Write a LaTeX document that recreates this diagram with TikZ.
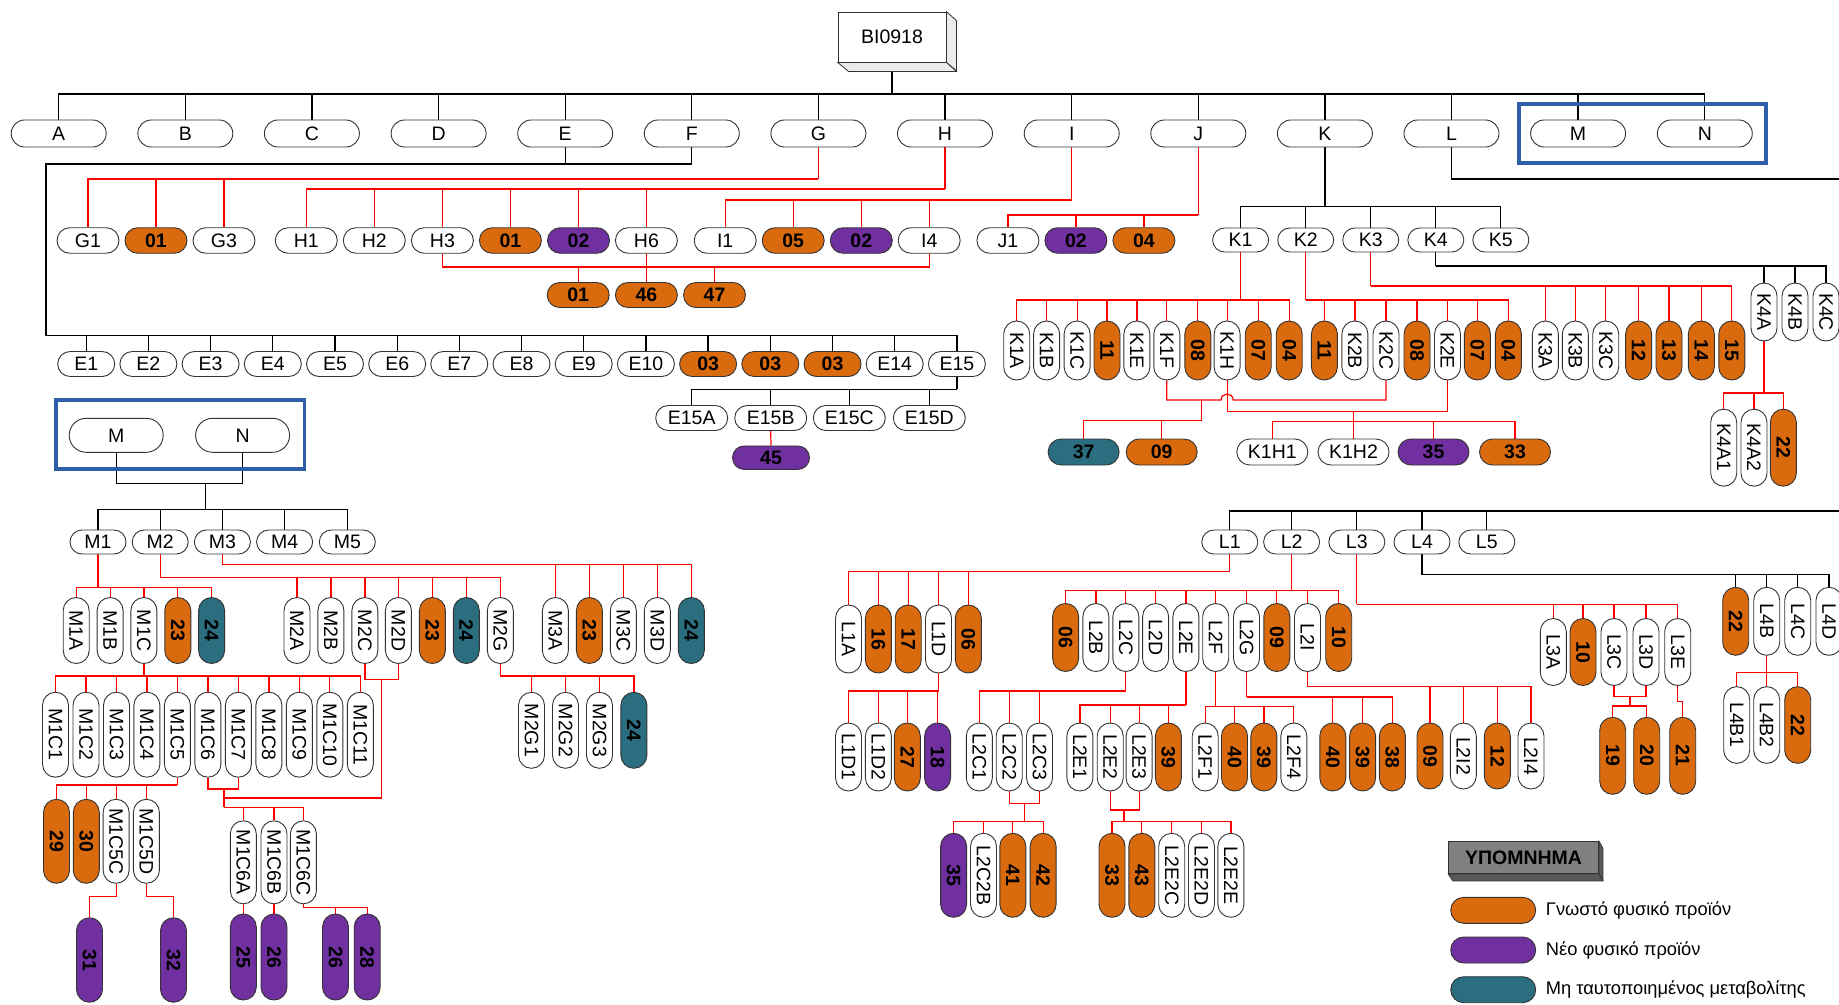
\documentclass[tikz,border=0pt]{standalone}
\usepackage{fontspec}
\setmainfont{Liberation Sans}
\usetikzlibrary{shapes.misc,calc}
\definecolor{orgc}{RGB}{217,106,14}
\definecolor{purc}{RGB}{112,48,160}
\definecolor{tealc}{RGB}{42,110,128}
\definecolor{framec}{RGB}{46,95,168}
\newcommand\lbl{\fontsize{19.5}{21}\selectfont}
\newcommand\lblb{\fontsize{19.5}{21}\selectfont\bfseries}
\newcommand\lgd{\fontsize{18.3}{20}\selectfont}
\pgfdeclarelayer{bg}
\pgfsetlayers{bg,main}
\tikzset{
  pill/.style={rounded rectangle,draw=black!80,line width=0.9pt,inner sep=0pt,font=\lbl},
  wt/.style={fill=white},
  og/.style={fill=orgc,font=\lblb},
  pu/.style={fill=purc,font=\lblb},
  tl/.style={fill=tealc,font=\lblb},
  rl/.style={draw=red,line width=1.2pt},
  bl/.style={draw=black,line width=1.3pt},
  frame/.style={draw=framec,line width=3.8pt},
  face/.style={draw=black!80,line width=0.8pt},
}
% vertical pill: name, x, y, length, colour style, text
\newcommand\vpill[6]{\node[pill,rotate=-90,minimum width=#4,minimum height=26,#5] (#1) at (#2,#3) {#6};}
% horizontal pill: name, x, y, width, height, colour style, text
\newcommand\hpill[7]{\node[pill,minimum width=#4,minimum height=#5,#6] (#1) at (#2,#3) {#7};}
% parent stem down to a bus at height #3, then one drop per child anchor
\newcommand\tbranch[4]{%
  \draw[#1] (#2) -- (#2 |- 0,#3);
  \foreach \c in {#4}{\draw[#1] (#2 |- 0,#3) -| (\c);}%
}
\begin{document}
\begin{tikzpicture}[x=1pt,y=-1pt]
\useasboundingbox (0,0) rectangle (1839,1004);
\begin{pgfonlayer}{bg}
  \fill[white] (0,0) rectangle (1839,1004);
\end{pgfonlayer}

% ---------- root ----------
\node[face,fill=white,minimum width=108,minimum height=50,inner sep=0pt,font=\lbl] (root) at (892,37) {BI0918};
\draw[face,fill=black!8] (root.north east) -- ++(10,9) -- ++(0,50) -- (root.south east) -- cycle;
\draw[face,fill=black!8] (root.south west) -- (root.south east) -- ++(10,9) -- ++(-108,0) -- cycle;

% ---------- first level ----------
\hpill{tA}{58.7}{133.5}{95}{27}{wt}{A}
\hpill{tB}{185.3}{133.5}{95}{27}{wt}{B}
\hpill{tC}{311.9}{133.5}{95}{27}{wt}{C}
\hpill{tD}{438.6}{133.5}{95}{27}{wt}{D}
\hpill{tE}{565.2}{133.5}{95}{27}{wt}{E}
\hpill{tF}{691.8}{133.5}{95}{27}{wt}{F}
\hpill{tG}{818.4}{133.5}{95}{27}{wt}{G}
\hpill{tH}{945.0}{133.5}{95}{27}{wt}{H}
\hpill{tI}{1071.7}{133.5}{95}{27}{wt}{I}
\hpill{tJ}{1198.3}{133.5}{95}{27}{wt}{J}
\hpill{tK}{1324.9}{133.5}{95}{27}{wt}{K}
\hpill{tL}{1451.5}{133.5}{95}{27}{wt}{L}
\hpill{tM}{1578.1}{133.5}{95}{27}{wt}{M}
\hpill{tN}{1704.8}{133.5}{95}{27}{wt}{N}
\draw[frame] (1519,104) rectangle (1766,163);

% ---------- G, H, I, J, K rows ----------
\hpill{G1}{88}{240.5}{62}{25.5}{wt}{G1}
\hpill{g01}{156}{240.5}{62}{25.5}{og}{01}
\hpill{G3}{224}{240.5}{62}{25.5}{wt}{G3}
\hpill{H1}{306.3}{240.5}{62}{25.5}{wt}{H1}
\hpill{H2}{374.3}{240.5}{62}{25.5}{wt}{H2}
\hpill{H3}{442.4}{240.5}{62}{25.5}{wt}{H3}
\hpill{h01}{510.4}{240.5}{62}{25.5}{og}{01}
\hpill{h02}{578.5}{240.5}{62}{25.5}{pu}{02}
\hpill{H6}{646.4}{240.5}{62}{25.5}{wt}{H6}
\hpill{I1}{725.2}{240.5}{62}{25.5}{wt}{I1}
\hpill{i05}{793.2}{240.5}{62}{25.5}{og}{05}
\hpill{i02}{861.3}{240.5}{62}{25.5}{pu}{02}
\hpill{I4}{929.2}{240.5}{62}{25.5}{wt}{I4}
\hpill{J1}{1007.9}{240.5}{62}{25.5}{wt}{J1}
\hpill{j02}{1075.9}{240.5}{62}{25.5}{pu}{02}
\hpill{j04}{1143.9}{240.5}{62}{25.5}{og}{04}
\hpill{K1}{1240.6}{240}{56}{24}{wt}{K1}
\hpill{K2}{1305.7}{240}{56}{24}{wt}{K2}
\hpill{K3}{1370.7}{240}{56}{24}{wt}{K3}
\hpill{K4}{1435.8}{240}{56}{24}{wt}{K4}
\hpill{K5}{1500.8}{240}{56}{24}{wt}{K5}
\hpill{hs01}{578.2}{295}{62}{25}{og}{01}
\hpill{hs46}{646.4}{295}{62}{25}{og}{46}
\hpill{hs47}{714.5}{295}{62}{25}{og}{47}

% ---------- E row ----------
\hpill{E1}{86.2}{364}{57}{25}{wt}{E1}
\hpill{E2}{148.4}{364}{57}{25}{wt}{E2}
\hpill{E3}{210.6}{364}{57}{25}{wt}{E3}
\hpill{E4}{272.8}{364}{57}{25}{wt}{E4}
\hpill{E5}{335.0}{364}{57}{25}{wt}{E5}
\hpill{E6}{397.2}{364}{57}{25}{wt}{E6}
\hpill{E7}{459.3}{364}{57}{25}{wt}{E7}
\hpill{E8}{521.5}{364}{57}{25}{wt}{E8}
\hpill{E9}{583.7}{364}{57}{25}{wt}{E9}
\hpill{E10}{645.9}{364}{57}{25}{wt}{E10}
\hpill{e03a}{708.1}{364}{57}{25}{og}{03}
\hpill{e03b}{770.3}{364}{57}{25}{og}{03}
\hpill{e03c}{832.5}{364}{57}{25}{og}{03}
\hpill{E14}{894.7}{364}{57}{25}{wt}{E14}
\hpill{E15}{956.9}{364}{57}{25}{wt}{E15}
\hpill{E15A}{691.7}{418}{72}{25}{wt}{E15A}
\hpill{E15B}{770.7}{418}{72}{25}{wt}{E15B}
\hpill{E15C}{849.3}{418}{72}{25}{wt}{E15C}
\hpill{E15D}{929.3}{418}{72}{25}{wt}{E15D}
\hpill{e45}{771}{457.7}{77}{23.5}{pu}{45}

% ---------- K children ----------
\vpill{K1A}{1016.7}{350.5}{59}{wt}{K1A}
\vpill{K1B}{1046.6}{350.5}{59}{wt}{K1B}
\vpill{K1C}{1077.1}{350.5}{59}{wt}{K1C}
\vpill{k11a}{1107}{350.5}{59}{og}{11}
\vpill{K1E}{1136.9}{350.5}{59}{wt}{K1E}
\vpill{K1F}{1166.8}{350.5}{59}{wt}{K1F}
\vpill{k08a}{1197.8}{350.5}{59}{og}{08}
\vpill{K1H}{1227.1}{350.5}{59}{wt}{K1H}
\vpill{k07a}{1258.2}{350.5}{59}{og}{07}
\vpill{k04a}{1289.2}{350.5}{59}{og}{04}
\vpill{k11b}{1324.4}{350.5}{59}{og}{11}
\vpill{K2B}{1354.9}{350.5}{59}{wt}{K2B}
\vpill{K2C}{1386}{350.5}{59}{wt}{K2C}
\vpill{k08b}{1417}{350.5}{59}{og}{08}
\vpill{K2E}{1447.5}{350.5}{59}{wt}{K2E}
\vpill{k07b}{1477.4}{350.5}{59}{og}{07}
\vpill{k04b}{1508.4}{350.5}{59}{og}{04}
\vpill{K3A}{1545.4}{350.5}{59}{wt}{K3A}
\vpill{K3B}{1575.3}{350.5}{59}{wt}{K3B}
\vpill{K3C}{1605.7}{350.5}{59}{wt}{K3C}
\vpill{k12}{1638.6}{350.5}{59}{og}{12}
\vpill{k13}{1669}{350.5}{59}{og}{13}
\vpill{k14}{1701.3}{350.5}{59}{og}{14}
\vpill{k15}{1731.8}{350.5}{59}{og}{15}
\vpill{K4A}{1764}{312}{58}{wt}{K4A}
\vpill{K4B}{1795}{312}{58}{wt}{K4B}
\vpill{K4C}{1826}{312}{58}{wt}{K4C}
\vpill{K4A1}{1723.7}{447.7}{77}{wt}{K4A1}
\vpill{K4A2}{1754}{447.7}{77}{wt}{K4A2}
\vpill{k22}{1783.3}{447.7}{77}{og}{22}
\hpill{k37}{1083.6}{452}{71}{26}{tl}{37}
\hpill{k09}{1161.7}{452}{71}{26}{og}{09}
\hpill{K1H1}{1272.3}{452}{71}{26}{wt}{K1H1}
\hpill{K1H2}{1353.5}{452}{71}{26}{wt}{K1H2}
\hpill{k35}{1433.5}{452}{71}{26}{pu}{35}
\hpill{k33}{1515}{452}{71}{26}{og}{33}

% ---------- M / N branch ----------
\hpill{bM}{116.2}{435.3}{94}{34}{wt}{M}
\hpill{bN}{242.6}{435.3}{94}{34}{wt}{N}
\draw[frame] (56.3,400) rectangle (304.5,468.7);
\hpill{M1}{98}{542}{56}{24}{wt}{M1}
\hpill{M2}{160.2}{542}{56}{24}{wt}{M2}
\hpill{M3}{222.4}{542}{56}{24}{wt}{M3}
\hpill{M4}{284.6}{542}{56}{24}{wt}{M4}
\hpill{M5}{347.3}{542}{56}{24}{wt}{M5}
\vpill{M1A}{76.2}{630.5}{66}{wt}{M1A}
\vpill{M1B}{110.1}{630.5}{66}{wt}{M1B}
\vpill{M1C}{143.9}{630.5}{66}{wt}{M1C}
\vpill{m23a}{177.8}{630.5}{66}{og}{23}
\vpill{m24a}{211.6}{630.5}{66}{tl}{24}
\vpill{M2A}{297}{630.5}{66}{wt}{M2A}
\vpill{M2B}{330.9}{630.5}{66}{wt}{M2B}
\vpill{M2C}{364.9}{630.5}{66}{wt}{M2C}
\vpill{M2D}{398.4}{630.5}{66}{wt}{M2D}
\vpill{m23b}{432.4}{630.5}{66}{og}{23}
\vpill{m24b}{466.3}{630.5}{66}{tl}{24}
\vpill{M2G}{500.3}{630.5}{66}{wt}{M2G}
\vpill{M3A}{555.4}{630.5}{66}{wt}{M3A}
\vpill{m23c}{589.4}{630.5}{66}{og}{23}
\vpill{M3C}{623.3}{630.5}{66}{wt}{M3C}
\vpill{M3D}{657.3}{630.5}{66}{wt}{M3D}
\vpill{m24c}{691.3}{630.5}{66}{tl}{24}
\vpill{M1C1}{55.5}{734.7}{85}{wt}{M1C1}
\vpill{M1C2}{86}{734.7}{85}{wt}{M1C2}
\vpill{M1C3}{116.5}{734.7}{85}{wt}{M1C3}
\vpill{M1C4}{146.9}{734.7}{85}{wt}{M1C4}
\vpill{M1C5}{177.4}{734.7}{85}{wt}{M1C5}
\vpill{M1C6}{207.9}{734.7}{85}{wt}{M1C6}
\vpill{M1C7}{238.4}{734.7}{85}{wt}{M1C7}
\vpill{M1C8}{268.9}{734.7}{85}{wt}{M1C8}
\vpill{M1C9}{299.3}{734.7}{85}{wt}{M1C9}
\vpill{M1C10}{329.8}{734.7}{85}{wt}{M1C10}
\vpill{M1C11}{360.3}{734.7}{85}{wt}{M1C11}
\vpill{M2G1}{531.5}{730.3}{76}{wt}{M2G1}
\vpill{M2G2}{565.5}{730.3}{76}{wt}{M2G2}
\vpill{M2G3}{599.5}{730.3}{76}{wt}{M2G3}
\vpill{m24d}{633.9}{730.3}{76}{tl}{24}
\vpill{m29}{56.5}{841.3}{84}{og}{29}
\vpill{m30}{86.3}{841.3}{84}{og}{30}
\vpill{M1C5C}{116.1}{841.3}{84}{wt}{M1C5C}
\vpill{M1C5D}{146.4}{841.3}{84}{wt}{M1C5D}
\vpill{M1C6A}{243.3}{862.3}{83}{wt}{M1C6A}
\vpill{M1C6B}{274}{862.3}{83}{wt}{M1C6B}
\vpill{M1C6C}{303.4}{862.3}{83}{wt}{M1C6C}
\vpill{p31}{89.5}{960}{84.5}{pu}{31}
\vpill{p32}{173.5}{960}{84.5}{pu}{32}
\vpill{p25}{243.3}{957}{86}{pu}{25}
\vpill{p26a}{274}{957}{86}{pu}{26}
\vpill{p26b}{335.5}{957}{86}{pu}{26}
\vpill{p28}{367.2}{957}{86}{pu}{28}

% ---------- L branch ----------
\hpill{L1}{1229.8}{542}{56}{24}{wt}{L1}
\hpill{L2}{1291.6}{542}{56}{24}{wt}{L2}
\hpill{L3}{1356.8}{542}{56}{24}{wt}{L3}
\hpill{L4}{1422}{542}{56}{24}{wt}{L4}
\hpill{L5}{1486.8}{542}{56}{24}{wt}{L5}
\vpill{L1A}{848.5}{639}{68}{wt}{L1A}
\vpill{l16}{878.4}{639}{68}{og}{16}
\vpill{l17}{908.2}{639}{68}{og}{17}
\vpill{L1D}{938.5}{639}{68}{wt}{L1D}
\vpill{l06a}{968.3}{639}{68}{og}{06}
\vpill{l06b}{1065.6}{637.5}{68}{og}{06}
\vpill{L2B}{1095.9}{637.5}{68}{wt}{L2B}
\vpill{L2C}{1125.8}{637.5}{68}{wt}{L2C}
\vpill{L2D}{1155.6}{637.5}{68}{wt}{L2D}
\vpill{L2E}{1185.9}{637.5}{68}{wt}{L2E}
\vpill{L2F}{1215.7}{637.5}{68}{wt}{L2F}
\vpill{L2G}{1246.5}{637.5}{68}{wt}{L2G}
\vpill{l09a}{1276.8}{637.5}{68}{og}{09}
\vpill{L2I}{1307.5}{637.5}{68}{wt}{L2I}
\vpill{l10a}{1338.7}{637.5}{68}{og}{10}
\vpill{L1D1}{848.5}{757}{68}{wt}{L1D1}
\vpill{L1D2}{878.4}{757}{68}{wt}{L1D2}
\vpill{l27}{907.3}{757}{68}{og}{27}
\vpill{l18}{937.6}{757}{68}{pu}{18}
\vpill{L2C1}{979.3}{757}{68}{wt}{L2C1}
\vpill{L2C2}{1009.2}{757}{68}{wt}{L2C2}
\vpill{L2C3}{1039.5}{757}{68}{wt}{L2C3}
\vpill{L2E1}{1079.9}{757}{68}{wt}{L2E1}
\vpill{L2E2}{1110.2}{757}{68}{wt}{L2E2}
\vpill{L2E3}{1139.1}{757}{68}{wt}{L2E3}
\vpill{l39a}{1168.4}{757}{68}{og}{39}
\vpill{L2F1}{1205.2}{757}{68}{wt}{L2F1}
\vpill{l40a}{1234.5}{757}{68}{og}{40}
\vpill{l39b}{1263.9}{757}{68}{og}{39}
\vpill{L2F4}{1293.8}{757}{68}{wt}{L2F4}
\vpill{l40b}{1332.8}{757}{68}{og}{40}
\vpill{l39c}{1362.6}{757}{68}{og}{39}
\vpill{l38}{1392.4}{757}{68}{og}{38}
\vpill{l09b}{1430}{756}{66}{og}{09}
\vpill{L2I2}{1463.3}{756}{66}{wt}{L2I2}
\vpill{l12}{1497.3}{756}{66}{og}{12}
\vpill{L2I4}{1531}{756}{66}{wt}{L2I4}
\vpill{l35}{953.6}{875.3}{84}{pu}{35}
\vpill{L2C2B}{983.5}{875.3}{84}{wt}{L2C2B}
\vpill{l41}{1012.8}{875.3}{84}{og}{41}
\vpill{l42}{1043.1}{875.3}{84}{og}{42}
\vpill{l33}{1112}{875.3}{84}{og}{33}
\vpill{l43}{1141.8}{875.3}{84}{og}{43}
\vpill{L2E2C}{1171.7}{875.3}{84}{wt}{L2E2C}
\vpill{L2E2D}{1201.5}{875.3}{84}{wt}{L2E2D}
\vpill{L2E2E}{1230.9}{875.3}{84}{wt}{L2E2E}
\vpill{L3A}{1553.3}{652}{67}{wt}{L3A}
\vpill{l10b}{1583}{652}{67}{og}{10}
\vpill{L3C}{1614}{652}{67}{wt}{L3C}
\vpill{L3D}{1646}{652}{67}{wt}{L3D}
\vpill{L3E}{1677.7}{652}{67}{wt}{L3E}
\vpill{l19}{1612.7}{755.8}{77}{og}{19}
\vpill{l20}{1646.7}{755.8}{77}{og}{20}
\vpill{l21}{1682.7}{755.8}{77}{og}{21}
\vpill{l22a}{1735.7}{621.3}{68}{og}{22}
\vpill{L4B}{1766.7}{621.3}{68}{wt}{L4B}
\vpill{L4C}{1797.7}{621.3}{68}{wt}{L4C}
\vpill{L4D}{1829}{621.3}{68}{wt}{L4D}
\vpill{L4B1}{1736.7}{725}{76.7}{wt}{L4B1}
\vpill{L4B2}{1766.7}{725}{76.7}{wt}{L4B2}
\vpill{l22b}{1797.7}{725}{76.7}{og}{22}

% ---------- legend ----------
\node[face,fill=black!50,minimum width=150,minimum height=32,inner sep=0pt,font=\lblb] (lgt) at (1523.5,857.5) {ΥΠΟΜΝΗΜΑ};
\draw[face,fill=black!65] (lgt.north east) -- ++(4,7) -- ++(0,32) -- (lgt.south east) -- cycle;
\draw[face,fill=black!65] (lgt.south west) -- (lgt.south east) -- ++(4,7) -- ++(-150,0) -- cycle;
\hpill{lgo}{1493.2}{910.3}{85}{26}{og}{}
\hpill{lgp}{1493.2}{950}{85}{26}{pu}{}
\hpill{lgt2}{1493.2}{989.7}{85}{26}{tl}{}
\node[anchor=west,inner sep=0pt,font=\lgd] (lgot) at (1545.7,910.3) {Γνωστό φυσικό προϊόν};
\node[anchor=west,inner sep=0pt,font=\lgd] (lgpt) at (1545.7,950) {Νέο φυσικό προϊόν};
\node[anchor=west,inner sep=0pt,font=\lgd] (lgtt) at (1545.7,989.7) {Μη ταυτοποιημένος μεταβολίτης};

% ---------- connectors ----------
\begin{pgfonlayer}{bg}
  \tbranch{bl}{root.south}{94}{tA.north,tB.north,tC.north,tD.north,tE.north,tF.north,tG.north,tH.north,tI.north,tJ.north,tK.north,tL.north,tM.north,tN.north}
  % E and F share one bus
  \coordinate (efj) at (46,164);
  \coordinate (efb) at (46,335.7);
  \draw[bl] (tF.south) |- (efj) -- (efb);
  \draw[bl] (tE.south) -- (tE.south |- efj);
  \foreach \c in {E1.north,E2.north,E3.north,E4.north,E5.north,E6.north,E7.north,E8.north,E9.north,E10.north,e03a.north,e03b.north,e03c.north,E14.north,E15.north}{\draw[bl] (efb) -| (\c);}
  \tbranch{bl}{E15.south}{389.3}{E15A.north,E15B.north,E15C.north,E15D.north}
  \draw[rl] (E15B.south) -- (e45.north);
  % G H I J
  \tbranch{rl}{tG.south}{179}{G1.north,g01.north,G3.north}
  \tbranch{rl}{tH.south}{189}{H1.north,H2.north,H3.north,h01.north,h02.north,H6.north}
  \tbranch{rl}{tI.south}{200}{I1.north,i05.north,i02.north,I4.north}
  \tbranch{rl}{tJ.south}{215}{J1.north,j02.north,j04.north}
  \draw[rl] (H3.south) |- (I4.south |- 0,267) -- (I4.south);
  \draw[rl] (H6.south) -- (hs46.north);
  \foreach \c in {hs01.north,hs47.north}{\draw[rl] (\c |- 0,267) -- (\c);}
  % K
  \tbranch{bl}{tK.south}{206.7}{K1.north,K2.north,K3.north,K4.north,K5.north}
  \tbranch{rl}{K1.south}{300}{K1A.west,K1B.west,K1C.west,k11a.west,K1E.west,K1F.west,k08a.west,K1H.west,k07a.west,k04a.west}
  \tbranch{rl}{K2.south}{300}{k11b.west,K2B.west,K2C.west,k08b.west,K2E.west,k07b.west,k04b.west}
  \tbranch{rl}{K3.south}{286}{K3A.west,K3B.west,K3C.west,k12.west,k13.west,k14.west,k15.west}
  \tbranch{bl}{K4.south}{266}{K4A.west,K4B.west,K4C.west}
  \tbranch{rl}{K4A.east}{393}{K4A1.west,K4A2.west,k22.west}
  \draw[rl] (K1F.east) |- ($(K1H.east |- 0,400)+(-6,0)$) .. controls +(0,-8) and +(0,-8) .. ++(12,0) -| (K2C.east);
  \draw[rl] (K1H.east) |- (K2E.east |- 0,411.7) -- (K2E.east);
  \coordinate (kjA) at (1201.3,400);
  \coordinate (kjB) at (1353.7,411.7);
  \tbranch{rl}{kjA}{420.7}{k37.north,k09.north}
  \tbranch{rl}{kjB}{421.7}{K1H1.north,K1H2.north,k35.north,k33.north}
  % M / N
  \draw[bl] (bM.south) |- (bN.south |- 0,483.3) -- (bN.south);
  \coordinate (mnj) at (205.3,483.3);
  \tbranch{bl}{mnj}{509.7}{M1.north,M2.north,M3.north,M4.north,M5.north}
  \tbranch{rl}{M1.south}{587.3}{M1A.west,M1B.west,M1C.west,m23a.west,m24a.west}
  \tbranch{rl}{M2.south}{577.3}{M2A.west,M2B.west,M2C.west,M2D.west,m23b.west,m24b.west,M2G.west}
  \tbranch{rl}{M3.south}{564.3}{M3A.west,m23c.west,M3C.west,M3D.west,m24c.west}
  \tbranch{rl}{M1C.east}{676}{M1C1.west,M1C2.west,M1C3.west,M1C4.west,M1C5.west,M1C6.west,M1C7.west,M1C8.west,M1C9.west,M1C10.west,M1C11.west}
  \tbranch{rl}{M2G.east}{676}{M2G1.west,M2G2.west,M2G3.west,m24d.west}
  \draw[rl] (M2C.east) |- (M2D.east |- 0,679.3) -- (M2D.east);
  \coordinate (m2cd) at (381.4,679.3);
  \coordinate (m6j) at (224,789);
  \coordinate (m6b) at (224,807.3);
  \draw[rl] (m2cd) |- (m6j |- 0,798);
  \draw[rl] (M1C6.east) |- (M1C7.east |- 0,789) -- (M1C7.east);
  \draw[rl] (m6j) -- (m6b);
  \foreach \c in {M1C6A.west,M1C6B.west,M1C6C.west}{\draw[rl] (m6b) -| (\c);}
  \tbranch{rl}{M1C5.east}{785}{m29.west,m30.west,M1C5C.west,M1C5D.west}
  \draw[rl] (M1C5C.east) |- (p31.west |- 0,896.7) -- (p31.west);
  \draw[rl] (M1C5D.east) |- (p32.west |- 0,896.7) -- (p32.west);
  \draw[rl] (M1C6A.east) -- (p25.west);
  \draw[rl] (M1C6B.east) -- (p26a.west);
  \tbranch{rl}{M1C6C.east}{907.7}{p26b.west,p28.west}
  % L
  \coordinate (lout) at (1839,179);
  \coordinate (lin) at (1839,511);
  \draw[bl] (tL.south) |- (lout);
  \foreach \c in {L1.north,L2.north,L3.north,L4.north,L5.north}{\draw[bl] (lin) -| (\c);}
  \tbranch{rl}{L1.south}{571.7}{L1A.west,l16.west,l17.west,L1D.west,l06a.west}
  \tbranch{rl}{L2.south}{590.7}{l06b.west,L2B.west,L2C.west,L2D.west,L2E.west,L2F.west,L2G.west,l09a.west,L2I.west,l10a.west}
  \tbranch{rl}{L3.south}{604.3}{L3A.west,l10b.west,L3C.west,L3D.west,L3E.west}
  \tbranch{bl}{L4.south}{574.7}{l22a.west,L4B.west,L4C.west,L4D.west}
  \tbranch{rl}{L1D.east}{691}{L1D1.west,L1D2.west,l27.west,l18.west}
  \tbranch{rl}{L2C.east}{691}{L2C1.west,L2C2.west,L2C3.west}
  \tbranch{rl}{L2E.east}{705}{L2E1.west,L2E2.west,L2E3.west,l39a.west}
  \tbranch{rl}{L2F.east}{706.7}{L2F1.west,l40a.west,l39b.west,L2F4.west}
  \tbranch{rl}{L2G.east}{697}{l40b.west,l39c.west,l38.west}
  \tbranch{rl}{L2I.east}{686.7}{l09b.west,L2I2.west,l12.west,L2I4.west}
  \draw[rl] (L2C2.east) |- (L2C3.east |- 0,803.3) -- (L2C3.east);
  \coordinate (lcj) at (1024.3,803.3);
  \tbranch{rl}{lcj}{821.3}{l35.west,L2C2B.west,l41.west,l42.west}
  \draw[rl] (L2E2.east) |- (L2E3.east |- 0,810) -- (L2E3.east);
  \coordinate (lej) at (1124,810);
  \tbranch{rl}{lej}{821.3}{l33.west,l43.west,L2E2C.west,L2E2D.west,L2E2E.west}
  \draw[rl] (L3C.east) |- (L3D.east |- 0,696.7) -- (L3D.east);
  \coordinate (l3j) at (1630,696.7);
  \tbranch{rl}{l3j}{706}{l19.west,l20.west}
  \draw[rl] (L3E.east) |- (l21.west |- 0,701.7) -- (l21.west);
  \tbranch{rl}{L4B.east}{672.3}{L4B1.west,L4B2.west,l22b.west}
\end{pgfonlayer}
\end{tikzpicture}
\end{document}
